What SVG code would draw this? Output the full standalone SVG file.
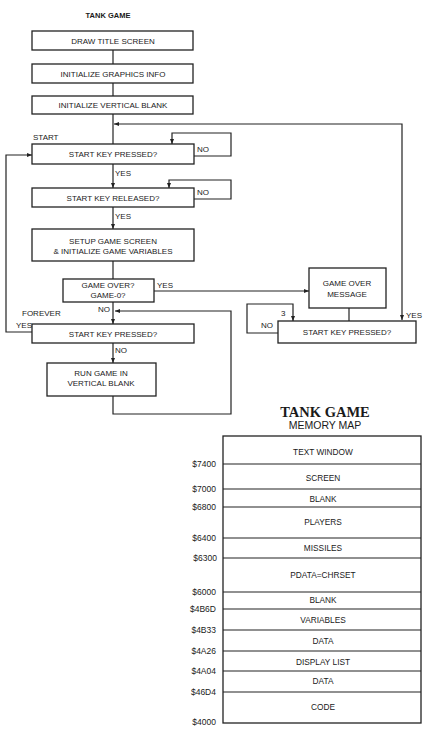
<svg xmlns="http://www.w3.org/2000/svg" width="432" height="732" viewBox="0 0 432 732">
<defs>
<style>
.b{fill:#fff;stroke:#222;stroke-width:1.3}
.t{font-family:"Liberation Sans",Arial,sans-serif;font-size:8px;fill:#1a1a1a;text-anchor:middle}
.l{font-family:"Liberation Sans",Arial,sans-serif;font-size:8px;fill:#1a1a1a}
.c{fill:none;stroke:#222;stroke-width:1.2}
.m{font-family:"Liberation Sans",Arial,sans-serif;font-size:8.3px;fill:#1a1a1a;text-anchor:middle}
.a{font-family:"Liberation Sans",Arial,sans-serif;font-size:8.5px;fill:#1a1a1a;text-anchor:end}
.d{stroke:#222;stroke-width:1.1}
</style>
<marker id="ar" viewBox="0 0 10 10" refX="10" refY="5" markerWidth="5" markerHeight="5" orient="auto-start-reverse" markerUnits="userSpaceOnUse">
<path d="M0,1 L10,5 L0,9 Z" fill="#222"/>
</marker>
</defs>
<rect width="432" height="732" fill="#fff"/>
<text x="108" y="18" class="l" style="font-weight:bold;font-size:7.5px;text-anchor:middle">TANK GAME</text>

<g id="connectors">
<path class="c" d="M113,50 V64"/>
<path class="c" d="M113,83 V96"/>
<path class="c" d="M113,114 V144"/>
<path class="c" d="M402,320 V124 H114" marker-start="url(#ar)" marker-end="url(#ar)"/>
<path class="c" d="M194,156 H231 V133 H172 V144" marker-end="url(#ar)"/>
<path class="c" d="M113,164 V188" marker-end="url(#ar)"/>
<path class="c" d="M194,199 H231 V180 H169 V188" marker-end="url(#ar)"/>
<path class="c" d="M113,207 V229" marker-end="url(#ar)"/>
<path class="c" d="M113,261 V279"/>
<path class="c" d="M154,291 H309" marker-end="url(#ar)"/>
<path class="c" d="M113,302 V324" marker-end="url(#ar)"/>
<path class="c" d="M113,396 V414 H231 V311 H115" marker-end="url(#ar)"/>
<path class="c" d="M32,332 H6 V155 H32" marker-end="url(#ar)"/>
<path class="c" d="M113,343 V363" marker-end="url(#ar)"/>
<path class="c" d="M349,308 V321"/>
<path class="c" d="M278,333 H247 V304 H293 V321" marker-end="url(#ar)"/>
<text x="33" y="140" class="l">START</text>
<text x="197" y="152" class="l">NO</text>
<text x="115" y="176" class="l">YES</text>
<text x="197" y="195" class="l">NO</text>
<text x="115" y="219" class="l">YES</text>
<text x="157" y="288" class="l">YES</text>
<text x="98" y="312" class="l">NO</text>
<text x="22" y="316" class="l">FOREVER</text>
<text x="16" y="328" class="l">YES</text>
<text x="115" y="353" class="l">NO</text>
<text x="281" y="316" class="l">3</text>
<text x="261" y="328" class="l">NO</text>
<text x="406" y="318" class="l">YES</text>
</g>

<g id="draw-title">
<rect class="b" x="32" y="31" width="161" height="19"/>
<text class="t" x="113" y="43.5">DRAW TITLE SCREEN</text>
</g>
<g id="init-graphics">
<rect class="b" x="32" y="64" width="161" height="19"/>
<text class="t" x="113" y="76.5">INITIALIZE GRAPHICS INFO</text>
</g>
<g id="init-vblank">
<rect class="b" x="32" y="96" width="161" height="18"/>
<text class="t" x="113" y="108">INITIALIZE VERTICAL BLANK</text>
</g>
<g id="start-pressed">
<rect class="b" x="32" y="144" width="162" height="20"/>
<text class="t" x="113" y="157">START KEY PRESSED?</text>
</g>
<g id="start-released">
<rect class="b" x="32" y="188" width="162" height="19"/>
<text class="t" x="113" y="200.5">START KEY RELEASED?</text>
</g>
<g id="setup">
<rect class="b" x="32" y="229" width="162" height="32"/>
<text class="t" x="113" y="244">SETUP GAME SCREEN</text>
<text class="t" x="113" y="253.5">&amp; INITIALIZE GAME VARIABLES</text>
</g>
<g id="game-over-q">
<rect class="b" x="63" y="279" width="91" height="23"/>
<text class="t" x="108" y="288">GAME OVER?</text>
<text class="t" x="108" y="298">GAME-0?</text>
</g>
<g id="start-pressed-2">
<rect class="b" x="32" y="324" width="162" height="19"/>
<text class="t" x="113" y="336.5">START KEY PRESSED?</text>
</g>
<g id="run-game">
<rect class="b" x="47" y="363" width="109" height="33"/>
<text class="t" x="101" y="376">RUN GAME IN</text>
<text class="t" x="101" y="386">VERTICAL BLANK</text>
</g>
<g id="game-over-msg">
<rect class="b" x="309" y="268" width="77" height="40"/>
<text class="t" x="347" y="286">GAME OVER</text>
<text class="t" x="347" y="297">MESSAGE</text>
</g>
<g id="start-pressed-3">
<rect class="b" x="278" y="321" width="138" height="22"/>
<text class="t" x="347" y="335">START KEY PRESSED?</text>
</g>

<g id="memory-map">
<text x="325" y="416.5" style="font-family:'Liberation Serif','Times New Roman',serif;font-weight:bold;font-size:14.5px;fill:#1a1a1a;text-anchor:middle">TANK GAME</text>
<text x="325" y="429" class="m" style="font-size:10.5px">MEMORY MAP</text>
<rect class="b" x="223" y="436" width="198" height="287"/>
<line class="d" x1="223" y1="464" x2="421" y2="464"/>
<line class="d" x1="223" y1="489" x2="421" y2="489"/>
<line class="d" x1="223" y1="507" x2="421" y2="507"/>
<line class="d" x1="223" y1="538" x2="421" y2="538"/>
<line class="d" x1="223" y1="558" x2="421" y2="558"/>
<line class="d" x1="223" y1="592" x2="421" y2="592"/>
<line class="d" x1="223" y1="609" x2="421" y2="609"/>
<line class="d" x1="223" y1="630" x2="421" y2="630"/>
<line class="d" x1="223" y1="651" x2="421" y2="651"/>
<line class="d" x1="223" y1="671" x2="421" y2="671"/>
<line class="d" x1="223" y1="692" x2="421" y2="692"/>
<text class="m" x="323" y="455">TEXT WINDOW</text>
<text class="m" x="323" y="481">SCREEN</text>
<text class="m" x="323" y="502">BLANK</text>
<text class="m" x="323" y="525">PLAYERS</text>
<text class="m" x="323" y="551">MISSILES</text>
<text class="m" x="323" y="578">PDATA=CHRSET</text>
<text class="m" x="323" y="603">BLANK</text>
<text class="m" x="323" y="623">VARIABLES</text>
<text class="m" x="323" y="644">DATA</text>
<text class="m" x="323" y="665">DISPLAY LIST</text>
<text class="m" x="323" y="684">DATA</text>
<text class="m" x="323" y="710">CODE</text>
<text class="a" x="216" y="467">$7400</text>
<text class="a" x="216" y="492">$7000</text>
<text class="a" x="216" y="510">$6800</text>
<text class="a" x="216" y="541">$6400</text>
<text class="a" x="217" y="561">$6300</text>
<text class="a" x="216" y="595">$6000</text>
<text class="a" x="216" y="612">$4B6D</text>
<text class="a" x="216" y="633">$4B33</text>
<text class="a" x="216" y="654">$4A26</text>
<text class="a" x="216" y="674">$4A04</text>
<text class="a" x="216" y="695">$46D4</text>
<text class="a" x="216" y="725">$4000</text>
</g>
</svg>
